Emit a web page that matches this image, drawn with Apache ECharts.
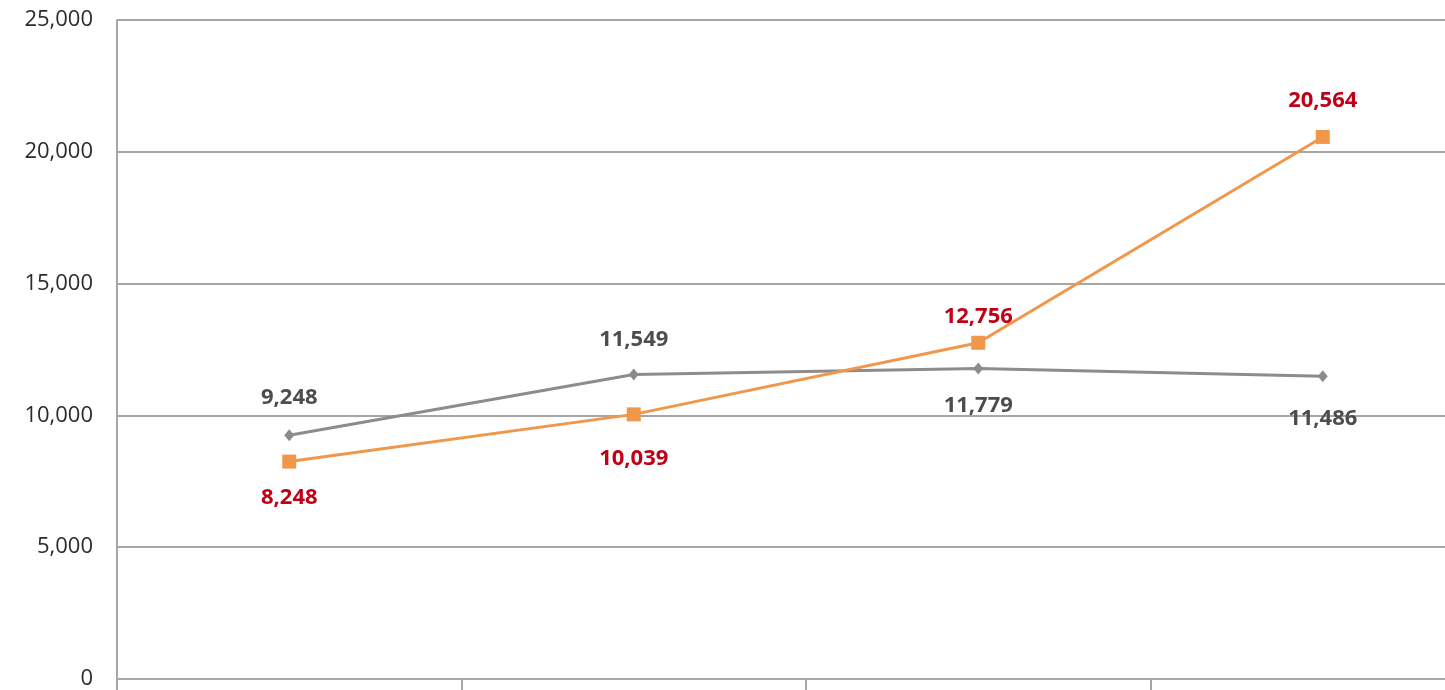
<!DOCTYPE html>
<html>
<head>
  <meta charset="UTF-8">
  <title>line-chart</title>
  <style>
    html, body { margin: 0; padding: 0; background: #fff; overflow: hidden; }
    /* plot runs past the right edge of the page, like the source image */
    #chart { width: 1495px; height: 690px; }
  </style>
</head>
<body>
<div id="chart"></div>
<script src="https://cdn.jsdelivr.net/npm/echarts@6/dist/echarts.min.js"></script>
<script>
  const categories = ['1', '2', '3', '4'];
  const grayValues = [9248, 11549, 11779, 11486];
  const orangeValues = [8248, 10039, 12756, 20564];
  const yTicks = [0, 5000, 10000, 15000, 20000, 25000];

  // label side per point
  const grayLabelSide = ['top', 'top', 'bottom', 'bottom'];
  const orangeLabelSide = ['bottom', 'bottom', 'top', 'top'];
  const grayLabelDist = [20, 18, 20, 26];
  const orangeLabelDist = [18, 26, 8, 18];

  const fmt = (v) => v.toLocaleString('en-US');

  function points(values, sides, dists) {
    return values.map((v, i) => ({
      value: v,
      label: {position: sides[i], distance: dists[i]}
    }));
  }

  const chart = echarts.init(document.getElementById('chart'));
  chart.setOption({
    animation: false,
    grid: {left: 117, right: 0, top: 20, bottom: 11, containLabel: false},
    xAxis: {
      type: 'category',
      data: categories,
      boundaryGap: true,
      axisLine: {lineStyle: {color: '#a6a6a6', width: 2}},
      axisTick: {show: true, length: 12, lineStyle: {color: '#a6a6a6', width: 2}},
      axisLabel: {show: false},
      splitLine: {show: false}
    },
    yAxis: {
      type: 'value',
      min: yTicks[0],
      max: yTicks[yTicks.length - 1],
      interval: 5000,
      axisLine: {show: true, lineStyle: {color: '#a6a6a6', width: 2}},
      axisTick: {show: false},
      axisLabel: {
        color: '#2b2b2b', fontSize: 22, fontFamily: 'Open Sans', margin: 24,
        formatter: (v) => fmt(v)
      },
      splitLine: {lineStyle: {color: '#a6a6a6', width: 2}}
    },
    series: [
      {
        type: 'line',
        data: points(grayValues, grayLabelSide, grayLabelDist),
        symbol: 'diamond',
        symbolSize: [10, 12],
        lineStyle: {color: '#8c8c8c', width: 3},
        itemStyle: {color: '#8c8c8c'},
        label: {
          show: true, color: '#4d4d4d', fontSize: 22, fontWeight: 'bold',
          fontFamily: 'Open Sans', formatter: (p) => fmt(p.value)
        },
        z: 3
      },
      {
        type: 'line',
        data: points(orangeValues, orangeLabelSide, orangeLabelDist),
        symbol: 'rect',
        symbolSize: 14,
        lineStyle: {color: '#f0974b', width: 3},
        itemStyle: {color: '#f0974b'},
        label: {
          show: true, color: '#c00017', fontSize: 22, fontWeight: 'bold',
          fontFamily: 'Open Sans', formatter: (p) => fmt(p.value)
        },
        z: 4
      }
    ]
  });
</script>
</body>
</html>
